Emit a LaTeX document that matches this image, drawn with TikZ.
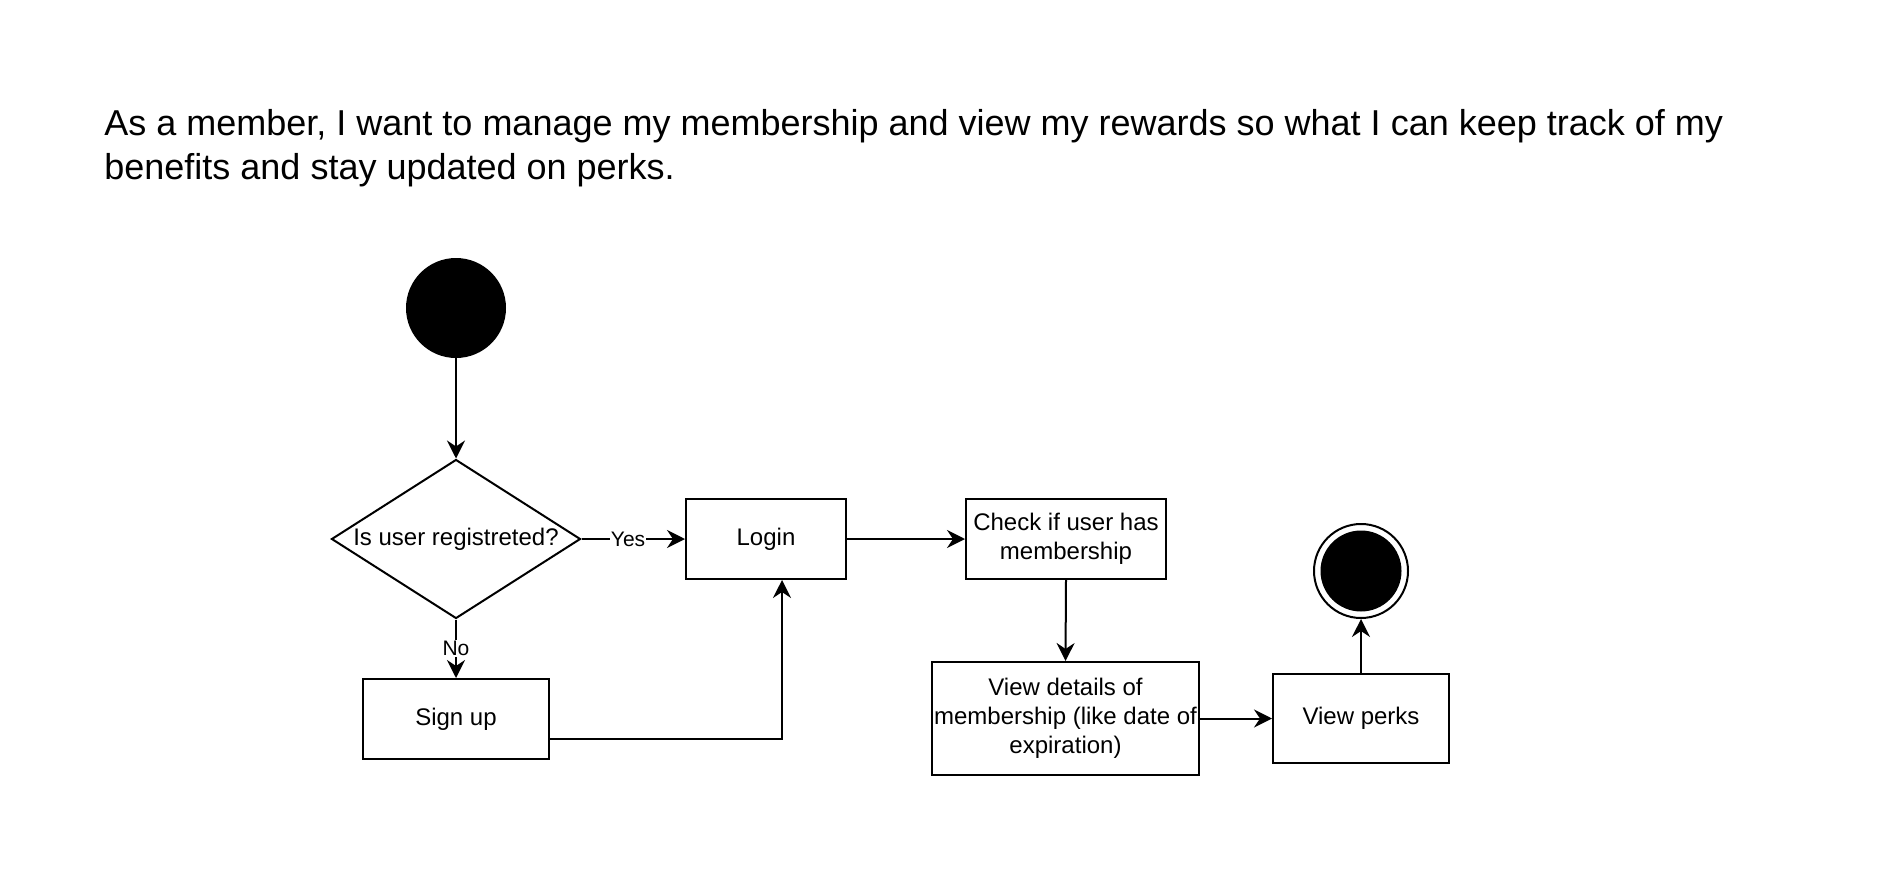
\documentclass[tikz,border=0pt]{standalone}
\usepackage{fontspec}
\setmainfont{Liberation Sans}
\usetikzlibrary{arrows.meta, positioning, shapes.geometric}

\begin{document}
\begin{tikzpicture}[x=0.5pt, y=-0.5pt,
    every node/.style={font=\fontsize{12}{14.4}\selectfont},
    box/.style={draw, line width=1pt, rectangle, align=center, inner sep=1pt},
    decision/.style={draw, line width=1pt, diamond, aspect=1.57, inner sep=0pt,
      minimum width=124.5pt, minimum height=79.5pt},
    startstate/.style={circle, fill=black, minimum size=50pt, inner sep=0pt},
    endstate/.style={circle, draw, line width=1pt, minimum size=47pt, inner sep=0pt,
      path picture={\fill (path picture bounding box.center) circle (20.25pt);}},
    flow/.style={line width=1pt, -{Stealth[length=9pt, width=9pt, inset=3pt]}},
    answer/.style={fill=white, inner sep=0.5pt, font=\fontsize{10.5}{12}\selectfont}]
  \useasboundingbox (0,0) rectangle (1880,878);

  % User story
  \node[anchor=base west, align=left, inner sep=0pt, font=\fontsize{18}{22}\selectfont] (story) at (104,179)
    {As a member, I want to manage my membership and view my rewards so what I can keep track of my\\benefits and stay updated on perks.};

  % Start and decision
  \node[startstate] (start) at (456,308) {};
  \node[decision] (registered) at (456,539) {Is user registreted?};

  % Boxes
  \node[box, minimum width=80pt, minimum height=40pt] (login) at (766,539) {Login};
  \node[box, minimum width=93pt, minimum height=40pt] (signup) at (456,719) {Sign up};
  \node[box, minimum width=100pt, minimum height=40pt] (check) at (1066,539) {Check if user has\\membership};
  \node[box, minimum width=133.5pt, minimum height=56.5pt] (details) at (1065.5,718.5) {View details of\\membership (like date of\\expiration)};
  \node[box, minimum width=88pt, minimum height=44.5pt] (perks) at (1361,718.5) {View perks};

  % End
  \node[endstate] (end) at (1361,571) {};

  % Connectors
  \draw[flow] (start) -- (registered.north);
  \draw[flow] (registered.east) -- node[answer, pos=0.45] {Yes} (login.west);
  \draw[flow] (registered.south) -- node[answer] {No} (signup.north);
  \draw[flow] ([yshift=-10pt]signup.east) -| ([xshift=8pt]login.south);
  \draw[flow] (login.east) -- (check.west);
  \draw[flow] (check.south) -- (details.north);
  \draw[flow] (details.east) -- (perks.west);
  \draw[flow] (perks.north) -- (end.south);
\end{tikzpicture}
\end{document}
